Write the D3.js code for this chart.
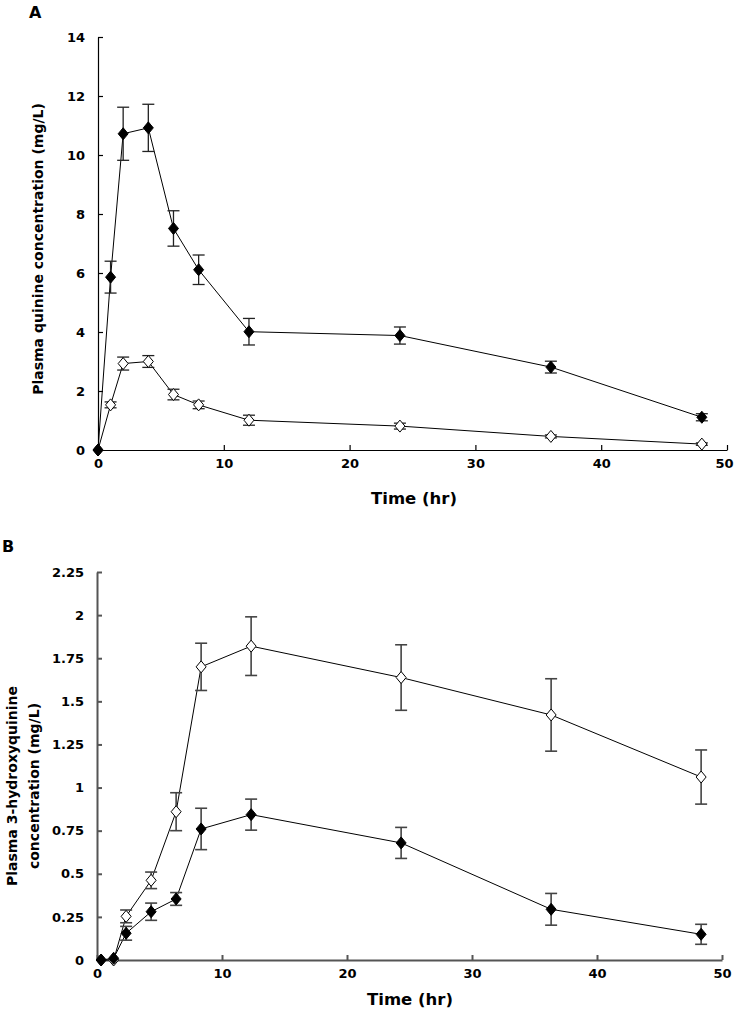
<!DOCTYPE html>
<html><head><meta charset="utf-8">
<script src="https://cdn.jsdelivr.net/npm/d3@7"></script>
<style>body{margin:0;background:#fff}svg{display:block}text{font-family:"DejaVu Sans",sans-serif;font-weight:bold;fill:#000}</style>
</head><body><svg id="c" width="735" height="1013"></svg>
<script>
// Panel A: plasma quinine
const timesA = [0, 1, 2, 4, 6, 8, 12, 24, 36, 48];
const quinineFilled = [0, 5.86, 10.72, 10.92, 7.51, 6.11, 4.01, 3.88, 2.81, 1.11];
const quinineFilledErr = [0, 0.54, 0.9, 0.8, 0.6, 0.5, 0.45, 0.29, 0.2, 0.12];
const quinineOpen = [0, 1.53, 2.93, 3.0, 1.88, 1.53, 1.01, 0.81, 0.46, 0.20];
const quinineOpenErr = [0, 0.1, 0.22, 0.2, 0.18, 0.13, 0.17, 0.1, 0.05, 0.04];
const yTicksA = [0, 2, 4, 6, 8, 10, 12, 14];
// Panel B: plasma 3-hydroxyquinine
const timesB = [0.33, 1.33, 2.33, 4.33, 6.33, 8.33, 12.33, 24.33, 36.33, 48.33];
const hydroxyFilled = [0, 0.01, 0.155, 0.28, 0.354, 0.76, 0.843, 0.679, 0.294, 0.149];
const hydroxyFilledErr = [0, 0, 0.04, 0.05, 0.037, 0.12, 0.09, 0.09, 0.092, 0.058];
const hydroxyOpen = [0, 0, 0.253, 0.462, 0.86, 1.70, 1.82, 1.638, 1.421, 1.061];
const hydroxyOpenErr = [0, 0, 0.037, 0.048, 0.11, 0.137, 0.17, 0.19, 0.21, 0.157];
const yTicksB = [0, 0.25, 0.5, 0.75, 1, 1.25, 1.5, 1.75, 2, 2.25];
const yTickLabelsB = ["0", "0.25", "0.5", "0.75", "1", "1.25", "1.5", "1.75", "2", "2.25"];
const xTicks = [0, 10, 20, 30, 40, 50];

const svg = d3.select("#c");

function panel(cfg) {
  const x = d3.scaleLinear().domain([0, 50]).range(cfg.xr);
  const y = d3.scaleLinear().domain(cfg.yd).range(cfg.yr);
  const g = svg.append("g");
  const xa = g.append("g").attr("transform", `translate(0,${cfg.yr[0]})`)
    .call(d3.axisBottom(x).tickValues(xTicks).tickSizeInner(-5).tickSizeOuter(0).tickPadding(9).tickFormat(d3.format("d")));
  const ya = g.append("g").attr("transform", `translate(${cfg.xr[0]},0)`)
    .call(d3.axisLeft(y).tickValues(cfg.yt).tickSizeInner(-5).tickSizeOuter(0).tickPadding(13).tickFormat((d, i) => cfg.yl[i]));
  [xa, ya].forEach(a => {
    a.selectAll("path,line").attr("stroke", cfg.axisColor).attr("stroke-width", cfg.axisWidth);
    a.selectAll("text").style("font-size", "13px").style("font-family", "'DejaVu Sans',sans-serif").style("font-weight", "bold");
  });
  xa.selectAll(".tick text").filter(d => d === 50).attr("dx", cfg.lastDx);
  const series = [
    {v: cfg.open, e: cfg.openErr, fill: "#fff"},
    {v: cfg.filled, e: cfg.filledErr, fill: "#000"}
  ];
  const line = d3.line().x((d, i) => x(cfg.t[i])).y(d => y(d));
  series.forEach(s => {
    g.append("path").datum(s.v).attr("d", line).attr("fill", "none").attr("stroke", "#000").attr("stroke-width", 1);
  });
  series.forEach(s => {
    const eg = g.append("g");
    s.v.forEach((v, i) => {
      if (!s.e[i]) return;
      const cx = x(cfg.t[i]), y1 = y(v + s.e[i]), y2 = y(v - s.e[i]);
      eg.append("line").attr("x1", cx).attr("x2", cx).attr("y1", y1).attr("y2", y2);
      eg.append("line").attr("x1", cx - 6).attr("x2", cx + 6).attr("y1", y1).attr("y2", y1);
      eg.append("line").attr("x1", cx - 6).attr("x2", cx + 6).attr("y1", y2).attr("y2", y2);
    });
    eg.selectAll("line").attr("stroke", cfg.errColor).attr("stroke-width", cfg.errWidth);
  });
  series.forEach(s => {
    g.append("g").selectAll("path").data(s.v).join("path")
      .attr("d", "M0,-6L5,0L0,6L-5,0Z")
      .attr("transform", (d, i) => `translate(${x(cfg.t[i])},${y(d)})`)
      .attr("fill", s.fill).attr("stroke", "#000").attr("stroke-width", 1);
  });
  return {x, y};
}

panel({xr: [98, 727], yr: [450, 37], yd: [0, 14], yt: yTicksA, yl: yTicksA.map(String),
  t: timesA, filled: quinineFilled, filledErr: quinineFilledErr, open: quinineOpen, openErr: quinineOpenErr,
  axisColor: "#000", axisWidth: 1.2, errColor: "#222", errWidth: 1.3, lastDx: -3});
panel({xr: [97, 722], yr: [960, 572], yd: [0, 2.25], yt: yTicksB, yl: yTickLabelsB,
  t: timesB, filled: hydroxyFilled, filledErr: hydroxyFilledErr, open: hydroxyOpen, openErr: hydroxyOpenErr,
  axisColor: "#555", axisWidth: 2, errColor: "#444", errWidth: 1.6, lastDx: 0});

// titles
svg.append("text").attr("x", 29).attr("y", 18).style("font-size", "16px").text("A");
svg.append("text").attr("x", 2).attr("y", 552).style("font-size", "16px").text("B");
svg.append("text").attr("x", 414).attr("y", 504).attr("text-anchor", "middle").style("font-size", "16.5px").text("Time (hr)");
svg.append("text").attr("x", 410).attr("y", 1005).attr("text-anchor", "middle").style("font-size", "16.5px").text("Time (hr)");
svg.append("text").attr("transform", "translate(43,249) rotate(-90)").attr("text-anchor", "middle").style("font-size", "14px").text("Plasma quinine concentration (mg/L)");
svg.append("text").attr("transform", "translate(17,786) rotate(-90)").attr("text-anchor", "middle").style("font-size", "14px").text("Plasma 3-hydroxyquinine");
svg.append("text").attr("transform", "translate(39,786) rotate(-90)").attr("text-anchor", "middle").style("font-size", "14px").text("concentration (mg/L)");
</script></body></html>
